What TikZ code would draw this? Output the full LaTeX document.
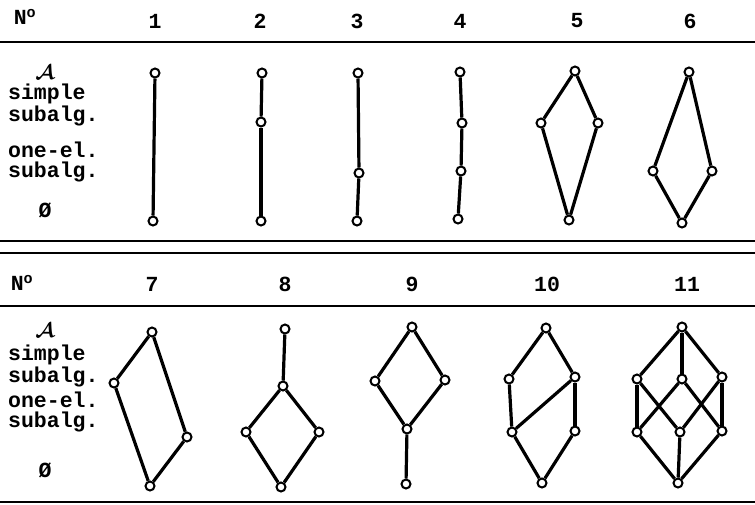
\documentclass[tikz,border=0pt]{standalone}
\usepackage{fontspec}
\setmainfont{Liberation Mono}
\usepackage{amsmath,bm}
\usepackage{tikz}
\tikzstyle{elt}  = [circle, draw=black, fill=white, line width=2pt,
                    inner sep=0pt, minimum size=9pt]
\tikzstyle{edge} = [line width=3.2pt]
\tikzstyle{rule} = [line width=2.6pt]
\tikzstyle{lbl}  = [font=\bfseries\fontsize{21.5}{20}\selectfont, inner sep=0pt]
\tikzstyle{side} = [lbl, anchor=west, align=left]

\begin{document}
\begin{tikzpicture}[x=1pt, y=-1pt]
  \useasboundingbox (0,0) rectangle (755,504);

  % Rules
  \draw[rule] (0,42) -- (755,42);
  \draw[rule] (0,241) -- (755,241);
  \draw[rule] (0,253) -- (755,253);
  \draw[rule] (0,306) -- (755,306);
  \draw[rule] (0,502) -- (755,502);

  % Header, upper table
  \node[lbl] (no1) at (25,17) {N\textsuperscript{o}};
  \node[lbl] (h1) at (155,21) {1};
  \node[lbl] (h2) at (260,21) {2};
  \node[lbl] (h3) at (357,21) {3};
  \node[lbl] (h4) at (460,21) {4};
  \node[lbl] (h5) at (577,21) {5};
  \node[lbl] (h6) at (690,21) {6};

  % Row labels, upper table
  \node[lbl] (alg1) at (45,72) {$\bm{\mathcal{A}}$};
  \node[side] (simp1) at (8,105) {simple\\subalg.};
  \node[side] (one1) at (8,162) {one-el.\\subalg.};
  \node[lbl] (emp1) at (45,210) {Ø};

  % Diagram 1
  \node[elt] (d1t) at (155,73) {};
  \node[elt] (d1b) at (153,221) {};
  \draw[edge] (d1t) -- (d1b);

  % Diagram 2
  \node[elt] (d2t) at (262,73) {};
  \node[elt] (d2m) at (261,122) {};
  \node[elt] (d2b) at (261,221) {};
  \draw[edge] (d2t) -- (d2m);
  \draw[edge] (d2m) -- (d2b);

  % Diagram 3
  \node[elt] (d3t) at (358,73) {};
  \node[elt] (d3m) at (359,173) {};
  \node[elt] (d3b) at (357,221) {};
  \draw[edge] (d3t) -- (d3m);
  \draw[edge] (d3m) -- (d3b);

  % Diagram 4
  \node[elt] (d4t) at (460,72) {};
  \node[elt] (d4u) at (462,123) {};
  \node[elt] (d4l) at (461,171) {};
  \node[elt] (d4b) at (458,219) {};
  \draw[edge] (d4t) -- (d4u);
  \draw[edge] (d4u) -- (d4l);
  \draw[edge] (d4l) -- (d4b);

  % Diagram 5
  \node[elt] (d5t) at (575,71) {};
  \node[elt] (d5l) at (541,123) {};
  \node[elt] (d5r) at (598,123) {};
  \node[elt] (d5b) at (569,220) {};
  \draw[edge] (d5t) -- (d5l);
  \draw[edge] (d5t) -- (d5r);
  \draw[edge] (d5l) -- (d5b);
  \draw[edge] (d5r) -- (d5b);

  % Diagram 6
  \node[elt] (d6t) at (689,72) {};
  \node[elt] (d6l) at (653,171) {};
  \node[elt] (d6r) at (712,171) {};
  \node[elt] (d6b) at (682,223) {};
  \draw[edge] (d6t) -- (d6l);
  \draw[edge] (d6t) -- (d6r);
  \draw[edge] (d6l) -- (d6b);
  \draw[edge] (d6r) -- (d6b);

  % Header, lower table
  \node[lbl] (no2) at (22,283) {N\textsuperscript{o}};
  \node[lbl] (h7) at (152,284) {7};
  \node[lbl] (h8) at (285,284) {8};
  \node[lbl] (h9) at (412,284) {9};
  \node[lbl] (h10) at (547,284) {10};
  \node[lbl] (h11) at (687,284) {11};

  % Row labels, lower table
  \node[lbl] (alg2) at (45,330) {$\bm{\mathcal{A}}$};
  \node[side] (simp2) at (8,366) {simple\\subalg.};
  \node[side] (one2) at (8,412) {one-el.\\subalg.};
  \node[lbl] (emp2) at (45,470) {Ø};

  % Diagram 7
  \node[elt] (d7t) at (152,332) {};
  \node[elt] (d7l) at (114,383) {};
  \node[elt] (d7r) at (187,437) {};
  \node[elt] (d7b) at (150,486) {};
  \draw[edge] (d7t) -- (d7l);
  \draw[edge] (d7t) -- (d7r);
  \draw[edge] (d7l) -- (d7b);
  \draw[edge] (d7r) -- (d7b);

  % Diagram 8
  \node[elt] (d8t) at (285,329) {};
  \node[elt] (d8m) at (283,386) {};
  \node[elt] (d8l) at (246,432) {};
  \node[elt] (d8r) at (319,432) {};
  \node[elt] (d8b) at (281,487) {};
  \draw[edge] (d8t) -- (d8m);
  \draw[edge] (d8m) -- (d8l);
  \draw[edge] (d8m) -- (d8r);
  \draw[edge] (d8l) -- (d8b);
  \draw[edge] (d8r) -- (d8b);

  % Diagram 9
  \node[elt] (d9t) at (412,327) {};
  \node[elt] (d9l) at (375,381) {};
  \node[elt] (d9r) at (445,380) {};
  \node[elt] (d9m) at (407,429) {};
  \node[elt] (d9b) at (406,484) {};
  \draw[edge] (d9t) -- (d9l);
  \draw[edge] (d9t) -- (d9r);
  \draw[edge] (d9l) -- (d9m);
  \draw[edge] (d9r) -- (d9m);
  \draw[edge] (d9m) -- (d9b);

  % Diagram 10
  \node[elt] (d10t) at (546,328) {};
  \node[elt] (d10ul) at (509,379) {};
  \node[elt] (d10ur) at (575,377) {};
  \node[elt] (d10ll) at (512,432) {};
  \node[elt] (d10lr) at (575,431) {};
  \node[elt] (d10b) at (542,483) {};
  \draw[edge] (d10t) -- (d10ul);
  \draw[edge] (d10t) -- (d10ur);
  \draw[edge] (d10ul) -- (d10ll);
  \draw[edge] (d10ur) -- (d10ll);
  \draw[edge] (d10ur) -- (d10lr);
  \draw[edge] (d10ll) -- (d10b);
  \draw[edge] (d10lr) -- (d10b);

  % Diagram 11
  \node[elt] (d11t) at (682,327) {};
  \node[elt] (d11ul) at (637,379) {};
  \node[elt] (d11um) at (682,379) {};
  \node[elt] (d11ur) at (722,377) {};
  \node[elt] (d11ll) at (637,432) {};
  \node[elt] (d11lm) at (680,432) {};
  \node[elt] (d11lr) at (722,431) {};
  \node[elt] (d11b) at (678,483) {};
  \draw[edge] (d11t) -- (d11ul);
  \draw[edge] (d11t) -- (d11um);
  \draw[edge] (d11t) -- (d11ur);
  \draw[edge] (d11ul) -- (d11ll);
  \draw[edge] (d11ul) -- (d11lm);
  \draw[edge] (d11um) -- (d11ll);
  \draw[edge] (d11um) -- (d11lr);
  \draw[edge] (d11ur) -- (d11lm);
  \draw[edge] (d11ur) -- (d11lr);
  \draw[edge] (d11ll) -- (d11b);
  \draw[edge] (d11lm) -- (d11b);
  \draw[edge] (d11lr) -- (d11b);

\end{tikzpicture}
\end{document}
